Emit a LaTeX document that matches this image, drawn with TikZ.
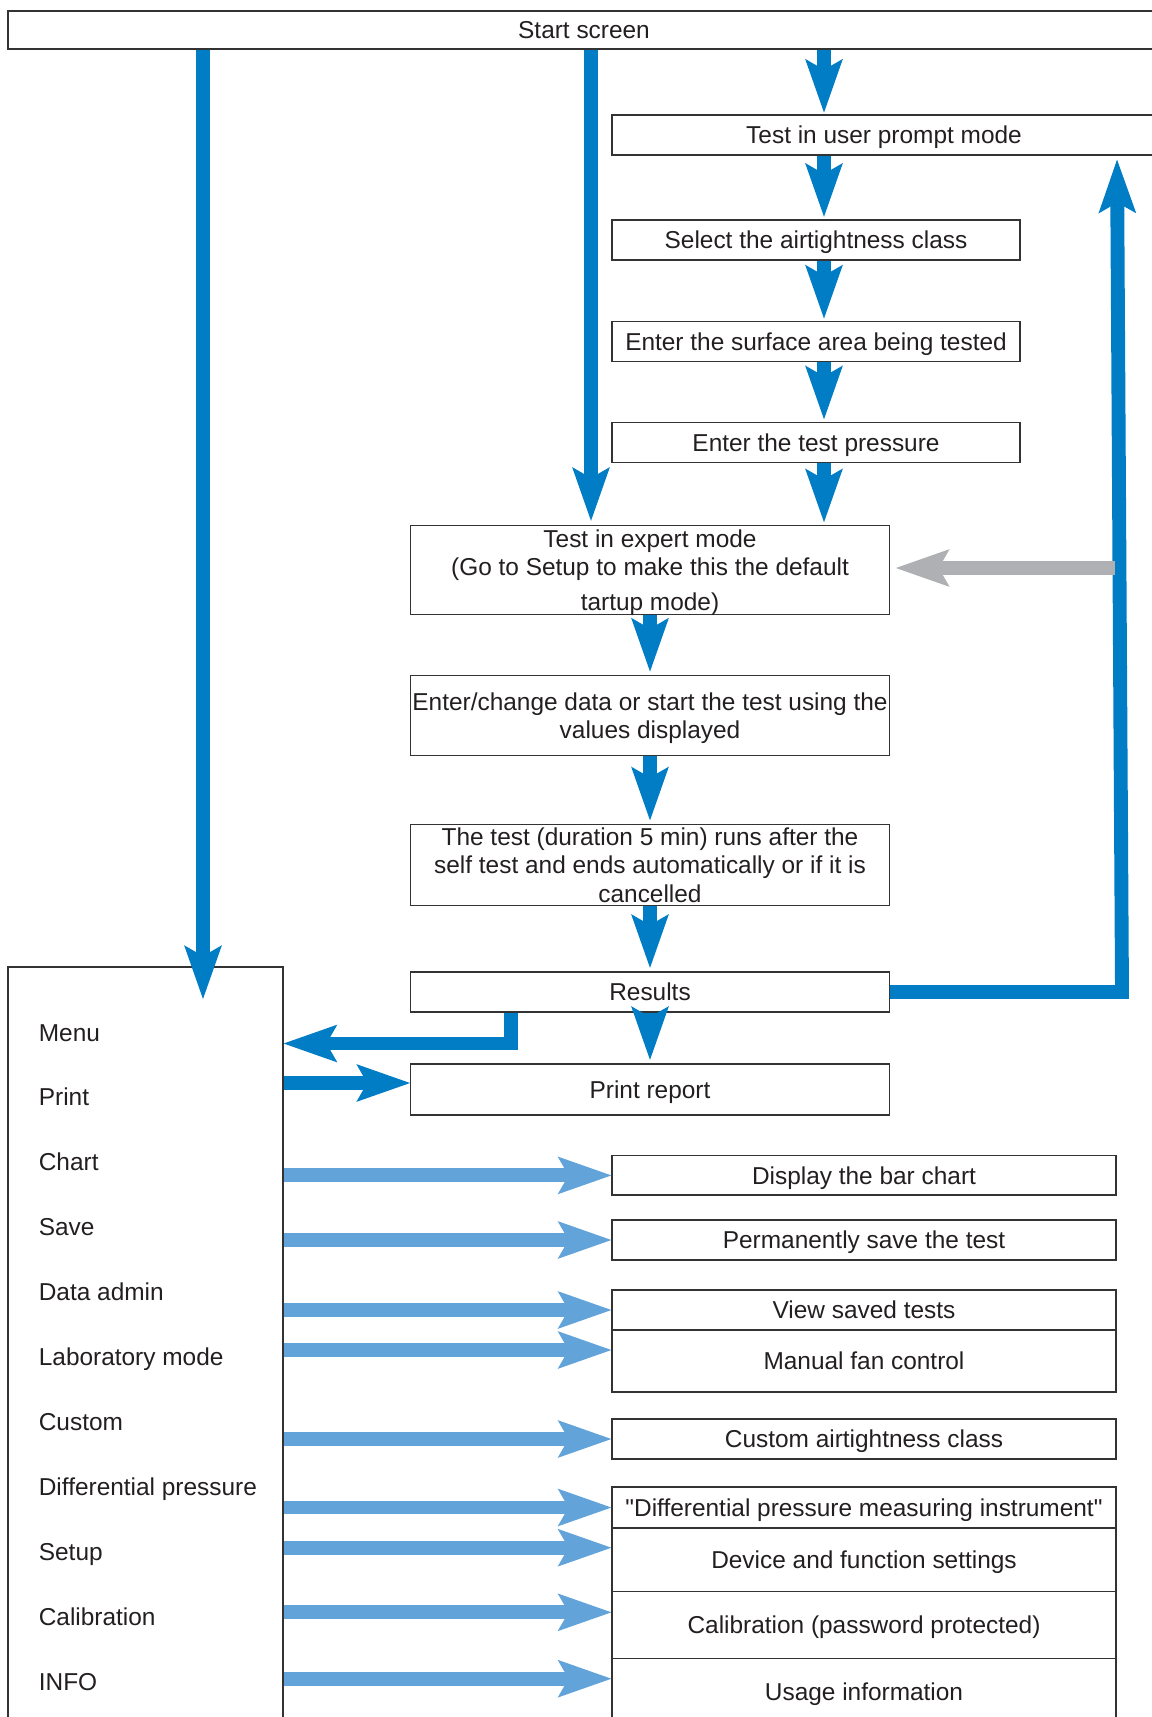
\documentclass[tikz,border=0pt]{standalone}
\usepackage{fontspec}
\setmainfont{Liberation Sans}[Ligatures=TeXOff]
\usepackage{xcolor}
\usetikzlibrary{arrows.meta}
\usetikzlibrary{calc}
\definecolor{flowblue}{HTML}{007DC5}
\definecolor{flowlightblue}{HTML}{62A4D9}
\definecolor{flowgrey}{HTML}{AEB0B3}
\definecolor{flowtext}{HTML}{231F20}

\begin{document}
\begin{tikzpicture}[x=0.02cm, y=-0.02cm,
    flowbox/.style={draw=black!80, line width=0.7pt, inner sep=0pt, align=center, text depth=0pt, text=flowtext, font=\figflowfont},
    boxsize/.style n args={2}{minimum width={#1*0.02cm}, minimum height={#2*0.02cm}},
    menuitem/.style={anchor=base west, inner sep=0pt, text=flowtext, font=\figflowfont},
    flowarrow/.style={line width=7.9pt, -{Stealth[length=30.6pt, width=21.5pt, inset=6.2pt, line width=0pt]}},
    darkarrow/.style={flowarrow, draw=flowblue},
    lightarrow/.style={flowarrow, draw=flowlightblue},
    greyarrow/.style={flowarrow, draw=flowgrey, line width=8.5pt},
  ]
        \newcommand{\figflowfont}{\fontsize{13.9}{16.2}\selectfont}
        \newcommand{\figflowmenux}{203}
        \newcommand{\figflowexpertx}{591}
        \newcommand{\figflowpromptx}{824}
        \newcommand{\figflowloopx}{1122}
        \newcommand{\figflowlooptopx}{1117}
        \newcommand{\figflowbacky}{1043.5}
        \newcommand{\figflowprinty}{1083}
        \newcommand{\figflowitemy}{1041}
        \newcommand{\figflowitemstep}{64.95}
        \useasboundingbox (0,0) rectangle (1152,1717);
        % top column
        \node[flowbox, boxsize={1152}{38}] (start) at (584,30) {Start screen};
        \node[flowbox, boxsize={544}{40}] (prompt) at (884,135) {Test in user prompt mode};
        \node[flowbox, boxsize={408}{40}] (airclass) at (816,240) {Select the airtightness class};
        \node[flowbox, boxsize={408}{39.5}] (surface) at (816,341.5) {Enter the surface area being tested};
        \node[flowbox, boxsize={408}{40}] (pressure) at (816,442.5) {Enter the test pressure};
        \node[flowbox, boxsize={478.6}{89}] (expert) at (650,570) {Test in expert mode\\(Go to Setup to make this the default\\[3.8pt]tartup mode)};
        \node[flowbox, boxsize={478.6}{80}] (change) at (650,715.7) {Enter/change data or start the test using the\\values displayed};
        \node[flowbox, boxsize={478.6}{81}] (runs) at (650,865) {The test (duration 5 min) runs after the\\self test and ends automatically or if it is\\cancelled};
        \node[flowbox, boxsize={478.6}{40}] (results) at (650,992) {Results};
        \node[flowbox, boxsize={478.6}{51}] (printrep) at (650,1089.5) {Print report};
        % menu and its targets
        \node[flowbox, boxsize={275}{763}] (menu) at (145.5,1348.5) {};
        \foreach \i/\txt in {0/Menu, 1/Print, 2/Chart, 3/Save, 4/Data admin, 5/Laboratory mode, 6/Custom, 7/Differential pressure, 8/Setup, 9/Calibration, 10/INFO}
          \node[menuitem] (item\i) at (38.5,{\figflowitemy+\figflowitemstep*\i}) {\txt};
        \node[flowbox, boxsize={504}{39.3}] (barchart) at (864,1175.4) {Display the bar chart};
        \node[flowbox, boxsize={504}{40}] (savetest) at (864,1240) {Permanently save the test};
        \node[flowbox, boxsize={504}{40}] (viewtests) at (864,1310) {View saved tests};
        \node[flowbox, boxsize={504}{62}] (fanctrl) at (864,1361) {Manual fan control};
        \node[flowbox, boxsize={504}{40}] (customclass) at (864,1439) {Custom airtightness class};
        \node[flowbox, boxsize={504}{41}] (diffinst) at (864,1507.5) {"Differential pressure measuring instrument"};
        \node[flowbox, boxsize={504}{63.7}] (devsettings) at (864,1560) {Device and function settings};
        \node[flowbox, boxsize={504}{66.6}] (calibpw) at (864,1625) {Calibration (password protected)};
        \node[flowbox, boxsize={504}{67.7}] (usageinfo) at (864,1692) {Usage information};
        % dark blue flow
        \coordinate (menuin) at (\figflowmenux,999);
        \draw[darkarrow] (start.south -| menuin) -- (menuin);
        \draw[darkarrow, shorten >=2.3pt] (start.south -| \figflowexpertx,0) -- (expert.north -| \figflowexpertx,0);
        \draw[darkarrow, shorten >=1pt] (start.south -| \figflowpromptx,0) -- (prompt.north -| \figflowpromptx,0);
        \foreach \from/\to in {prompt/airclass, airclass/surface, surface/pressure, pressure/expert}
          \draw[darkarrow, shorten >=1.5pt] (\from.south -| \figflowpromptx,0) -- (\to.north -| \figflowpromptx,0);
        \foreach \from/\to in {expert/change, change/runs, runs/results, results/printrep}
          \draw[darkarrow, shorten >=2pt] (\from.south) -- (\to.north);
        \draw[darkarrow] (results.south -| 511,0) |- (menu.east |- 0,\figflowbacky);
        \draw[darkarrow] (menu.east |- 0,\figflowprinty) -- (printrep.west |- 0,\figflowprinty);
        \draw[darkarrow, shorten >=2.3pt] (results.east) -- (results.east -| \figflowloopx,0) -- (prompt.south -| \figflowlooptopx,0);
        \coordinate (greystart) at (1115,568);
        \draw[greyarrow, shorten >=3.4pt] (greystart) -- (expert.east |- greystart);
        % light blue menu arrows
        \foreach \tgt/\dy in {barchart/0, savetest/0, viewtests/0, fanctrl/-11, customclass/0, diffinst/0, devsettings/-12.3, calibpw/-12.7, usageinfo/-13.3}
        {
          \coordinate (tgtin) at ($(\tgt.west)+(0,\dy)$);
          \draw[lightarrow] (menu.east |- tgtin) -- (tgtin);
        }
\end{tikzpicture}
\end{document}
